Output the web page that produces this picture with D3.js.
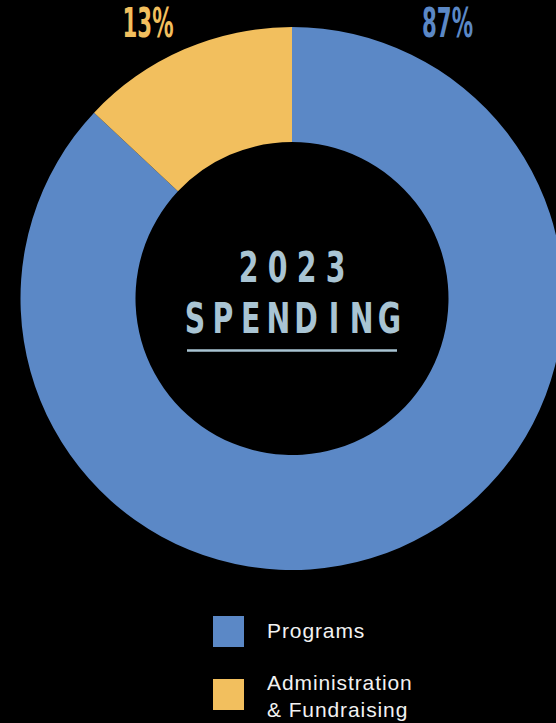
<!DOCTYPE html>
<html>
<head>
<meta charset="utf-8">
<script src="https://cdn.jsdelivr.net/npm/d3@7"></script>
<style>
  html, body { margin: 0; padding: 0; background: #000; }
  #pie-container { width: 556px; height: 723px; overflow: hidden; }
</style>
</head>
<body>
<div id="pie-container"></div>
<script>
const categories = ['Programs', 'Administration & Fundraising'];
const values = [87, 13];
const legendLines = [['Programs'], ['Administration', '& Fundraising']];
const titleLines = ['2023', 'SPENDING'];

const colors = ['#5b88c6', '#f2bf5e'];
const titleColor = '#a9c4d3';
const width = 556;
const height = 723;
const cx = 292;
const cy = 298.5;
const outerRadius = 271.5;
const innerRadius = 156.5;
const labelX = [148, 447.5];
const condensed = '"DejaVu Sans", sans-serif';

const data = categories.map((c, i) => ({ name: c, value: values[i], color: colors[i] }));

const svg = d3.select('#pie-container')
  .append('svg')
  .attr('width', width)
  .attr('height', height)
  .style('background', '#000');

const g = svg.append('g')
  .attr('transform', `translate(${cx}, ${cy})`);

const arcGenerator = d3.arc()
  .innerRadius(innerRadius)
  .outerRadius(outerRadius);

const pieGenerator = d3.pie()
  .sort(null)
  .value((d) => d.value);

g.selectAll('path')
  .data(pieGenerator(data))
  .enter()
  .append('path')
  .attr('d', arcGenerator)
  .style('fill', (d) => d.data.color);

// percent labels above the ring, ordered left to right (admin, programs)
const total = d3.sum(values);
svg.selectAll('text.pct')
  .data(data.slice().reverse())
  .enter()
  .append('text')
  .attr('class', 'pct')
  .attr('x', (_, i) => labelX[i])
  .attr('y', 37)
  .attr('text-anchor', 'middle')
  .attr('textLength', 51)
  .attr('lengthAdjust', 'spacingAndGlyphs')
  .style('font-family', condensed)
  .style('font-weight', 'bold')
  .style('font-size', '41px')
  .style('fill', (d) => d.color)
  .text((d) => Math.round(d.value / total * 100) + '%');

// center title, one glyph per letter so it can be tracked out and narrowed
const titleRows = [
  { text: titleLines[0], y: -16.5, range: [-43.5, 43.5] },
  { text: titleLines[1], y: 34.5, range: [-97, 97.5] },
];

titleRows.forEach((row) => {
  const chars = row.text.split('');
  const xs = d3.scalePoint()
    .domain(d3.range(chars.length))
    .range(row.range);
  g.append('g')
    .selectAll('text')
    .data(chars)
    .enter()
    .append('text')
    .attr('transform', (_, i) => `translate(${xs(i)}, ${row.y}) scale(0.66, 1)`)
    .attr('text-anchor', 'middle')
    .style('font-family', condensed)
    .style('font-weight', 'bold')
    .style('font-size', '43px')
    .style('fill', titleColor)
    .text((d) => d);
});

g.append('line')
  .attr('x1', -105)
  .attr('x2', 105)
  .attr('y1', 52)
  .attr('y2', 52)
  .style('stroke', titleColor)
  .style('stroke-width', 2.5);

// legend
const legend = svg.append('g')
  .attr('transform', 'translate(213, 616)');

const item = legend.selectAll('g')
  .data(data)
  .enter()
  .append('g')
  .attr('transform', (_, i) => `translate(0, ${i * 63})`);

item.append('rect')
  .attr('width', 31)
  .attr('height', 31)
  .style('fill', (d) => d.color);

item.append('text')
  .style('font-family', '"Liberation Sans", Arial, sans-serif')
  .style('font-size', '21px')
  .style('letter-spacing', '0.9px')
  .style('fill', '#f2f2f2')
  .selectAll('tspan')
  .data((_, i) => legendLines[i].map((t, j) => ({ t, j, n: legendLines[i].length })))
  .enter()
  .append('tspan')
  .attr('x', 54)
  .attr('y', (d) => d.n === 1 ? 22 : 11 + d.j * 27)
  .text((d) => d.t);
</script>
</body>
</html>
